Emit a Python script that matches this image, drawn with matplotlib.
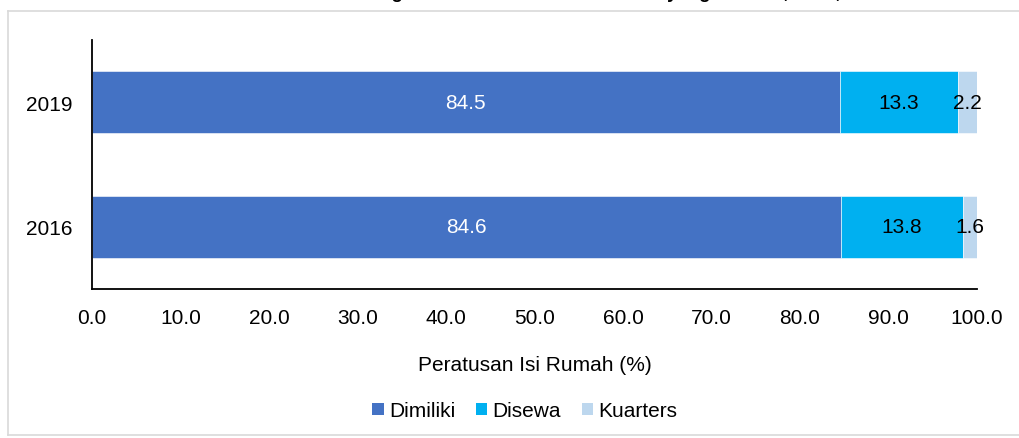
import matplotlib
matplotlib.use("Agg")
import matplotlib.pyplot as plt
from matplotlib.lines import Line2D
from matplotlib.patches import Patch

plt.rcParams['font.family'] = ['Liberation Sans', 'DejaVu Sans']

years = ["2016", "2019"]
dimiliki = [84.6, 84.5]
disewa = [13.8, 13.3]
kuarters = [1.6, 2.2]
series_names = ["Dimiliki", "Disewa", "Kuarters"]
colors = ["#4472C4", "#00B0F0", "#BDD7EE"]
label_colors = ["white", "black", "black"]
xticks = [0, 10, 20, 30, 40, 50, 60, 70, 80, 90, 100]
title = "Peratusan Isi Rumah mengikut Status Milikan Kediaman yang Didiami, 2016, 2019"

W, H = 1020, 439
FS = 15
fig = plt.figure(figsize=(W / 100, H / 100), dpi=100)

# outer light border (left, top, bottom; right edge lies outside the picture)
bx0, by_top, by_bot = 8.5 / W, 1 - 11.5 / H, 1 - 435.5 / H
for xs, ys in [([bx0, bx0], [by_bot, by_top]),
               ([bx0, 1.01], [by_top, by_top]),
               ([bx0, 1.01], [by_bot, by_bot])]:
    fig.add_artist(Line2D(xs, ys, transform=fig.transFigure,
                          color="#D9D9D9", linewidth=1.2))

# clipped title (only its lower part is inside the picture)
fig.text(0.515, 1 + 1.5 / H, title, ha="center", va="baseline",
         fontsize=13.5, fontweight="bold", color="black")

ax = fig.add_axes([92 / W, 1 - 290 / H, (977 - 92) / W, (290 - 41) / H])

data = [dimiliki, disewa, kuarters]
y = list(range(len(years)))
left = [0.0] * len(years)
for vals, name, c, lc in zip(data, series_names, colors, label_colors):
    ax.barh(y, vals, left=left, height=0.5, color=c, label=name,
            edgecolor="white", linewidth=0.4)
    for yi, v, l in zip(y, vals, left):
        ax.text(l + v / 2, yi, f"{v:.1f}", ha="center", va="center",
                fontsize=FS, color=lc)
    left = [l + v for l, v in zip(left, vals)]

ax.set_xlim(0, 100)
ax.set_ylim(-0.5, 1.5)
ax.set_yticks(y)
ax.set_yticklabels(years, fontsize=FS)
ax.set_xticks(xticks)
ax.set_xticklabels([f"{t:.1f}" for t in xticks], fontsize=FS)
ax.tick_params(axis="both", length=0)
ax.tick_params(axis="y", pad=14)
ax.tick_params(axis="x", pad=14)
for s in ["top", "right"]:
    ax.spines[s].set_visible(False)
for s in ["left", "bottom"]:
    ax.spines[s].set_linewidth(1.3)
    ax.spines[s].set_color("black")

ax.set_xlabel("Peratusan Isi Rumah (%)", fontsize=FS, labelpad=20)

handles = [Patch(facecolor=c, edgecolor="none") for c in colors]
fig.legend(handles, series_names, loc="center", bbox_to_anchor=(525 / W, 1 - 412 / H),
           ncol=3, frameon=False, fontsize=FS, handlelength=0.55, handleheight=0.55,
           handletextpad=0.25, columnspacing=1.0)

fig.savefig("out.png", dpi=100)
